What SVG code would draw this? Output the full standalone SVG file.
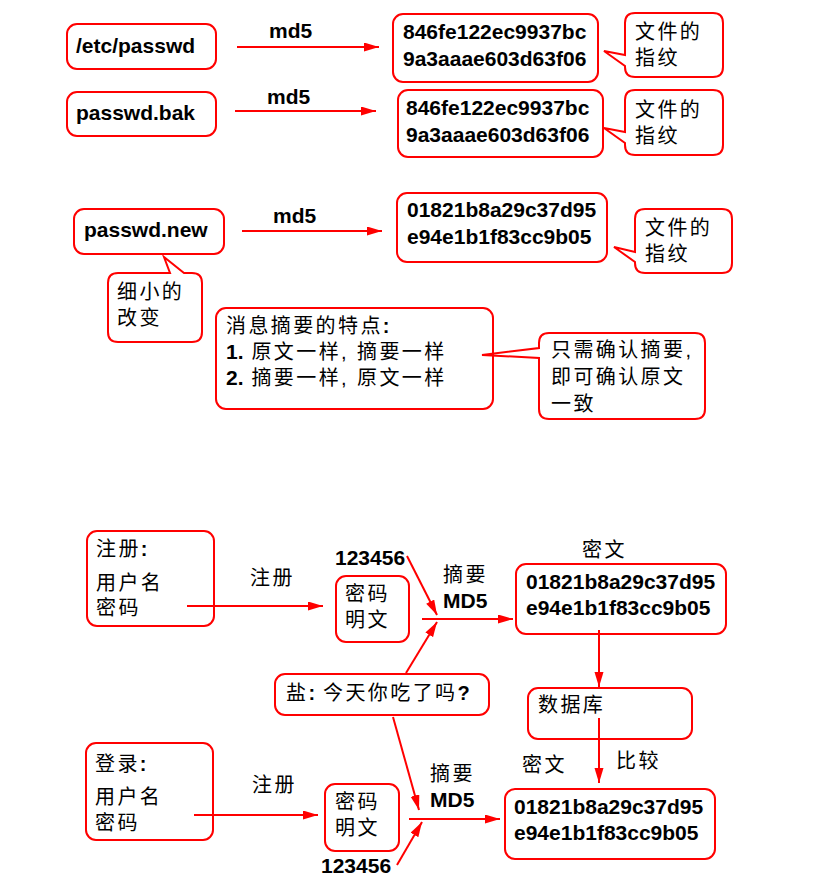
<svg xmlns="http://www.w3.org/2000/svg" width="814" height="896" viewBox="0 0 814 896">
<defs>
<style>
.box{fill:none;stroke:#ff0000;stroke-width:2}
.ln{fill:none;stroke:#ff0000;stroke-width:2;marker-end:url(#ah)}
.b{font-family:"Liberation Sans","Noto Sans CJK SC",sans-serif;font-weight:bold;font-size:21px;fill:#000}
.c{font-family:"Liberation Sans","Noto Sans CJK SC",sans-serif;font-size:20px;letter-spacing:2.4px;fill:#000}
.k{font-weight:bold;letter-spacing:0}
</style>
<marker id="ah" markerUnits="userSpaceOnUse" markerWidth="15" markerHeight="10" refX="15" refY="4.5" orient="auto">
<path d="M0,0 L15,4.5 L0,9 Z" fill="#ff0000"/>
</marker>
</defs>
<rect width="814" height="896" fill="#ffffff"/>

<g id="etc-passwd"><rect class="box" x="67" y="24" width="149" height="45" rx="10"/><text class="b" x="76" y="53">/etc/passwd</text></g>
<g id="hash1"><rect class="box" x="393" y="14" width="205" height="68" rx="10"/><text class="b" x="403" y="39">846fe122ec9937bc</text><text class="b" x="403" y="66">9a3aaae603d63f06</text></g>
<g id="note1"><path class="box" d="M635,13 H713 Q723,13 723,23 V67 Q723,77 713,77 H635 Q625,77 625,67 V66 L604,51 L625,55 V23 Q625,13 635,13 Z"/><text class="c" x="635" y="39">文件的</text><text class="c" x="635" y="65">指纹</text></g>

<g id="passwd-bak"><rect class="box" x="67" y="92" width="149" height="44" rx="10"/><text class="b" x="76" y="120">passwd.bak</text></g>
<g id="hash2"><rect class="box" x="398" y="90" width="205" height="67" rx="10"/><text class="b" x="406" y="115">846fe122ec9937bc</text><text class="b" x="406" y="142">9a3aaae603d63f06</text></g>
<g id="note2"><path class="box" d="M635,90 H713 Q723,90 723,100 V145 Q723,155 713,155 H635 Q625,155 625,145 V143 L604,128 L625,132 V100 Q625,90 635,90 Z"/><text class="c" x="635" y="117">文件的</text><text class="c" x="635" y="143">指纹</text></g>

<g id="passwd-new"><rect class="box" x="74" y="209" width="150" height="45" rx="10"/><text class="b" x="84" y="237">passwd.new</text></g>
<g id="hash3"><rect class="box" x="397" y="193" width="210" height="69" rx="10"/><text class="b" x="407" y="217">01821b8a29c37d95</text><text class="b" x="407" y="244">e94e1b1f83cc9b05</text></g>
<g id="note3"><path class="box" d="M645,209 H722 Q732,209 732,219 V263 Q732,273 722,273 H645 Q635,273 635,263 V262 L614,247 L635,252 V219 Q635,209 645,209 Z"/><text class="c" x="645" y="235">文件的</text><text class="c" x="645" y="261">指纹</text></g>

<g id="note-change"><path class="box" d="M118,273 H170 L164,257 L184,273 H192 Q202,273 202,283 V332 Q202,342 192,342 H118 Q108,342 108,332 V283 Q108,273 118,273 Z"/><text class="c" x="117" y="299">细小的</text><text class="c" x="117" y="325">改变</text></g>

<g id="features"><rect class="box" x="216" y="308" width="277" height="101" rx="10"/><text class="c" x="226" y="333">消息摘要的特点<tspan class="k">:</tspan></text><text class="c" x="226" y="359"><tspan class="b" style="letter-spacing:0">1.</tspan> 原文一样, 摘要一样</text><text class="c" x="226" y="385"><tspan class="b" style="letter-spacing:0">2.</tspan> 摘要一样, 原文一样</text></g>
<g id="note-confirm"><path class="box" d="M549,333 H695 Q705,333 705,343 V409 Q705,419 695,419 H549 Q539,419 539,409 V358 L482,355 L539,348 V343 Q539,333 549,333 Z"/><text class="c" x="551" y="357">只需确认摘要,</text><text class="c" x="551" y="384">即可确认原文</text><text class="c" x="551" y="411">一致</text></g>

<g id="register"><rect class="box" x="87" y="531" width="127" height="95" rx="10"/><text class="c" x="96" y="556">注册<tspan class="k">:</tspan></text><text class="c" x="96" y="590">用户名</text><text class="c" x="96" y="615">密码</text></g>
<g id="plain1"><rect class="box" x="336" y="576" width="73" height="66" rx="10"/><text class="c" x="345" y="601">密码</text><text class="c" x="345" y="627">明文</text></g>
<g id="cipher1"><rect class="box" x="516" y="564" width="210" height="70" rx="10"/><text class="b" x="526" y="589">01821b8a29c37d95</text><text class="b" x="526" y="615">e94e1b1f83cc9b05</text></g>
<g id="salt"><rect class="box" x="275" y="674" width="214" height="41" rx="10"/><text class="c" x="286" y="700">盐<tspan class="k">:</tspan> 今天你吃了吗<tspan class="k">?</tspan></text></g>
<g id="db"><rect class="box" x="528" y="688" width="164" height="51" rx="10"/><text class="c" x="538" y="712">数据库</text></g>
<g id="login"><rect class="box" x="86" y="743" width="127" height="97" rx="10"/><text class="c" x="95" y="771">登录<tspan class="k">:</tspan></text><text class="c" x="95" y="804">用户名</text><text class="c" x="95" y="830">密码</text></g>
<g id="plain2"><rect class="box" x="325" y="784" width="74" height="67" rx="10"/><text class="c" x="335" y="809">密码</text><text class="c" x="335" y="835">明文</text></g>
<g id="cipher2"><rect class="box" x="505" y="789" width="210" height="70" rx="10"/><text class="b" x="514" y="814">01821b8a29c37d95</text><text class="b" x="514" y="840">e94e1b1f83cc9b05</text></g>

<g id="labels">
<text class="b" x="269" y="38">md5</text>
<text class="b" x="267" y="104">md5</text>
<text class="b" x="273" y="223">md5</text>
<text class="c" x="250" y="585">注册</text>
<text class="b" x="335" y="565">123456</text>
<text class="c" x="443" y="582">摘要</text>
<text class="b" x="443" y="608">MD5</text>
<text class="c" x="582" y="557">密文</text>
<text class="c" x="252" y="792">注册</text>
<text class="c" x="430" y="781">摘要</text>
<text class="b" x="430" y="807">MD5</text>
<text class="c" x="522" y="772">密文</text>
<text class="c" x="616" y="768">比较</text>
<text class="b" x="321" y="873">123456</text>
</g>

<g id="connectors">
<line class="ln" x1="237" y1="47" x2="379" y2="47"/>
<line class="ln" x1="235" y1="111" x2="376" y2="111"/>
<line class="ln" x1="242" y1="231" x2="382" y2="231"/>
<line class="ln" x1="187" y1="606" x2="323" y2="606"/>
<line class="ln" x1="407" y1="556" x2="437" y2="615"/>
<line class="ln" x1="406" y1="673" x2="437" y2="622"/>
<line class="ln" x1="422" y1="619" x2="513" y2="619"/>
<line class="ln" x1="599" y1="630" x2="599" y2="687"/>
<line class="ln" x1="599" y1="718" x2="599" y2="783"/>
<line class="ln" x1="393" y1="717" x2="419" y2="810"/>
<line class="ln" x1="194" y1="815" x2="318" y2="815"/>
<line class="ln" x1="409" y1="819" x2="500" y2="819"/>
<line class="ln" x1="397" y1="865" x2="422" y2="822"/>
</g>
</svg>
